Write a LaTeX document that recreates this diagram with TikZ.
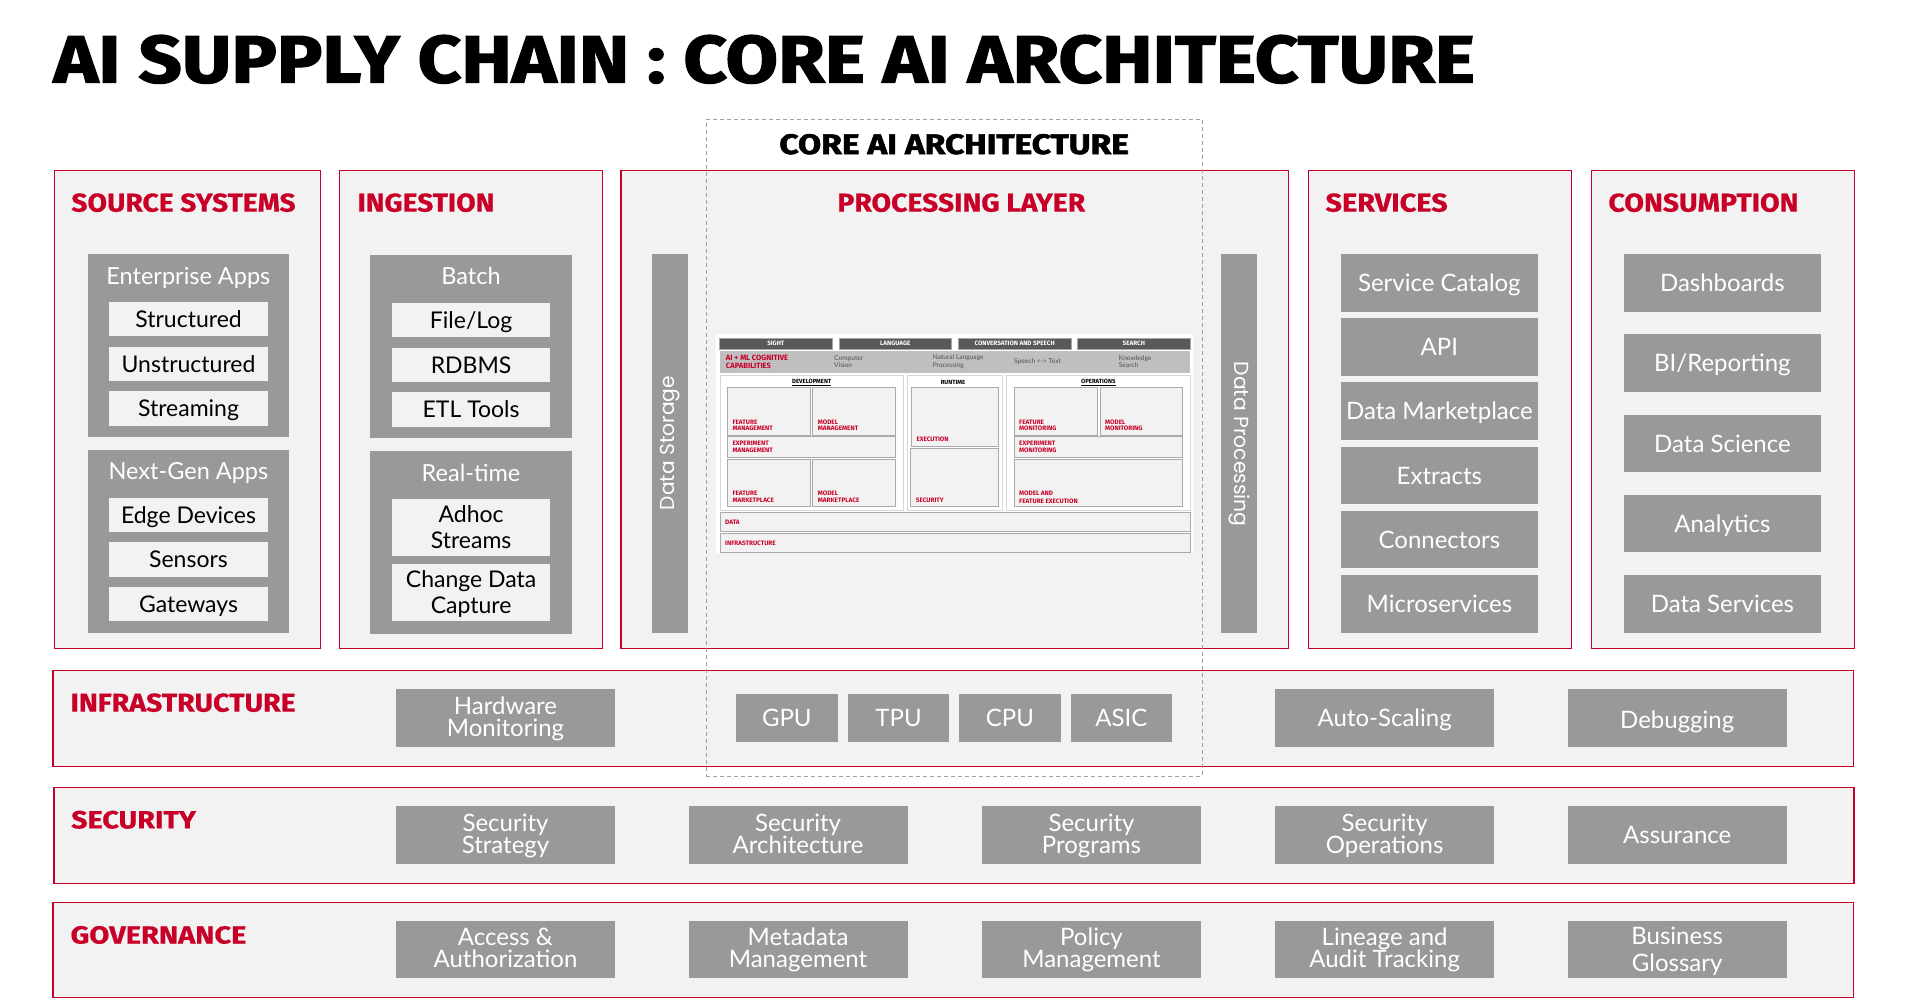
\documentclass[tikz,border=0pt]{standalone}
\usepackage{fontspec}
\usepackage{graphicx}
\setmainfont{Lato}
\newfontfamily\heavyf{Fira Sans}[BoldFeatures={FakeBold=1.8}]
\newfontfamily\xboldf{Fira Sans}[BoldFeatures={FakeBold=0.6}]
\newfontfamily\fboldf{Fira Sans}
\newcommand\heavy{\heavyf\bfseries}
\newcommand\xbold{\xboldf\bfseries}
\newcommand\fbold{\fboldf\bfseries}
\newfontfamily\geo{Poppins}
\usetikzlibrary{calc}
\definecolor{acred}{RGB}{200,0,40}
\definecolor{panel}{RGB}{242,242,242}
\definecolor{boxgray}{RGB}{153,153,153}
\definecolor{darkbar}{RGB}{89,89,89}
\definecolor{cogband}{RGB}{191,191,191}
\definecolor{txtgray}{RGB}{80,80,80}
\definecolor{dashgray}{RGB}{160,160,160}
\definecolor{minibd}{RGB}{170,170,170}
\definecolor{panelbd}{RGB}{215,215,215}

% name, x1, y1, x2, y2, style, text
\newcommand\RBox[7]{%
  \pgfmathsetmacro\rbw{#4-#2}\pgfmathsetmacro\rbh{#5-#3}%
  \node[inner sep=0pt,outer sep=0pt,anchor=north west,minimum width=\rbw pt,minimum height=\rbh pt,#6] (#1) at (#2,#3) {#7};}
% name, x, y, width, height, colour, text
\newcommand\HeadT[7]{%
  \node[anchor=north west,inner sep=0pt,outer sep=0pt,text=#6] (#1) at (#2,#3) {\resizebox{#4pt}{#5pt}{\xbold #7}};}

\tikzset{
  panelbox/.style={draw=acred,fill=panel,line width=1.3pt},
  grp/.style={fill=boxgray},
  wbox/.style={fill=panel,align=center,font=\fontsize{23}{26}\selectfont,text height=16.5pt,text depth=0pt},
  wbox2/.style={wbox,text height=42.5pt},
  gbox/.style={fill=boxgray,text=white,align=center,font=\fontsize{24}{26}\selectfont,text height=17.2pt,text depth=0pt},
  rowbox/.style={fill=boxgray,text=white,align=center,font=\fontsize{24}{22.3}\selectfont,text height=17.2pt,text depth=0pt},
  rowbox2/.style={rowbox,text height=37pt},
  grplabel/.style={text=white,font=\fontsize{23.5}{26}\selectfont,text height=16.8pt,text depth=0pt,inner sep=0pt},
  vbar/.style={fill=boxgray},
  vtext/.style={text=white,inner sep=0pt},
  topbar/.style={fill=darkbar,draw=gray!70,line width=0.6pt,text=white,font=\fbold\fontsize{6.3}{7}\selectfont},
  minipanel/.style={fill=white,draw=panelbd,line width=0.8pt},
  minibox/.style={fill=panel,draw=minibd,line width=0.9pt},
  minilbl/.style={text=acred,font=\fbold\fontsize{6.4}{6.6}\selectfont,align=left,inner sep=0pt,anchor=south west},
  minihead/.style={text=black,font=\fbold\fontsize{6}{7}\selectfont,inner sep=0pt},
  cogtxt/.style={text=txtgray,font=\fontsize{6.6}{7.4}\selectfont,align=left,inner sep=0pt,anchor=west},
}

\begin{document}
\begin{tikzpicture}[x=1pt,y=-1pt]
\useasboundingbox (0,0) rectangle (1908,1004);
\fill[white] (0,0) rectangle (1908,1004);

% ---------- title ----------
\node[anchor=north west,inner sep=0pt,outer sep=0pt] (title) at (53.5,35)
  {\resizebox{1420.5pt}{47.5pt}{\heavy AI SUPPLY CHAIN : CORE AI ARCHITECTURE}};

% ---------- top panels ----------
\RBox{src}{54.5}{170.7}{320.5}{648.3}{panelbox}{}
\RBox{ing}{339.3}{170.7}{602.6}{648.3}{panelbox}{}
\RBox{proc}{621}{170.7}{1288.3}{648.3}{panelbox}{}
\RBox{svc}{1308.5}{170.7}{1571.4}{648.3}{panelbox}{}
\RBox{con}{1591.5}{170.7}{1854.4}{648.3}{panelbox}{}

\HeadT{hsrc}{71.4}{193.3}{224.2}{18.3}{acred}{SOURCE SYSTEMS}
\HeadT{hing}{357.6}{193.3}{136.7}{18.3}{acred}{INGESTION}
\HeadT{hproc}{837.4}{193.3}{247.8}{18.3}{acred}{PROCESSING LAYER}
\HeadT{hsvc}{1325.5}{193.3}{122.2}{18.3}{acred}{SERVICES}
\HeadT{hcon}{1608.5}{193.3}{190}{18.3}{acred}{CONSUMPTION}

% ---------- source systems ----------
\RBox{ent}{87.8}{254.3}{289}{436.7}{grp}{}
\node[grplabel] (entl) at (188.4,276) {Enterprise Apps};
\RBox{s1}{108.9}{302.3}{268.1}{335.7}{wbox}{Structured}
\RBox{s2}{108.9}{347.3}{268.1}{380.7}{wbox}{Unstructured}
\RBox{s3}{108.9}{391.3}{268.1}{425.7}{wbox}{Streaming}
\RBox{ngn}{87.8}{450.3}{289}{632.7}{grp}{}
\node[grplabel] (ngnl) at (188.4,471) {Next-Gen Apps};
\RBox{s4}{108.9}{498.3}{268.1}{531.7}{wbox}{Edge Devices}
\RBox{s5}{108.9}{542.3}{268.1}{576.7}{wbox}{Sensors}
\RBox{s6}{108.9}{587.3}{268.1}{621}{wbox}{Gateways}

% ---------- ingestion ----------
\RBox{bat}{369.9}{255}{572}{437.7}{grp}{}
\node[grplabel] (batl) at (471,276) {Batch};
\RBox{i1}{392.1}{303.3}{550.1}{336.7}{wbox}{File/Log}
\RBox{i2}{392.1}{348.3}{550.1}{381.7}{wbox}{RDBMS}
\RBox{i3}{392.1}{392.3}{550.1}{426.7}{wbox}{ETL Tools}
\RBox{rt}{369.9}{451.3}{572}{633.7}{grp}{}
\node[grplabel] (rtl) at (471,472.7) {Real-time};
\RBox{i4}{392.1}{499.3}{550.1}{556}{wbox2}{Adhoc\\Streams}
\RBox{i5}{392.1}{564}{550.1}{621}{wbox2}{Change Data\\Capture}

% ---------- processing layer ----------
\RBox{dstor}{652.1}{254}{688.1}{632.7}{vbar}{}
\node[vtext,rotate=90] (dstort) at (670.3,443) {\resizebox{134pt}{!}{\geo Data Storage}};
\RBox{dproc}{1221}{254}{1257}{633.3}{vbar}{}
\node[vtext,rotate=-90] (dproct) at (1239,444.2) {\resizebox{165pt}{!}{\geo Data Processing}};

% mini architecture picture
\RBox{mbg}{716}{334}{1192.7}{553.3}{fill=white}{}
\RBox{bsight}{719.3}{338.3}{832.3}{349.3}{topbar}{SIGHT}
\RBox{blang}{839}{338.3}{951.7}{349.3}{topbar}{LANGUAGE}
\RBox{bconv}{958.3}{338.3}{1071}{349.3}{topbar}{CONVERSATION AND SPEECH}
\RBox{bsearch}{1077.3}{338.3}{1190.3}{349.3}{topbar}{SEARCH}
\RBox{cog}{720}{351}{1190}{372.7}{fill=cogband}{}
\node[text=acred,font=\fbold\fontsize{7.6}{7.7}\selectfont,align=left,inner sep=0pt,anchor=west] (cogl) at (725.7,361.6) {AI + ML COGNITIVE\\CAPABILITIES};
\node[cogtxt] (cv) at (834,361.6) {Computer\\Vision};
\node[cogtxt] (nlp) at (932.7,361.6) {Natural Language\\Processing};
\node[cogtxt] (stt) at (1014,362) {Speech <-> Text};
\node[cogtxt] (ks) at (1118.7,361.6) {Knowledge\\Search};

\RBox{pdev}{720}{375}{903.3}{510}{minipanel}{}
\RBox{prun}{907.3}{375}{1002.7}{510}{minipanel}{}
\RBox{pops}{1006.7}{375}{1190}{510}{minipanel}{}
\node[minihead] (hdev) at (811.7,382.3) {\underline{DEVELOPMENT}};
\node[minihead] (hrun) at (953,382.3) {RUNTIME};
\node[minihead] (hops) at (1098.3,382.3) {\underline{OPERATIONS}};

\RBox{fm}{727.3}{387.3}{810}{435}{minibox}{}
\RBox{mm}{812.7}{387.3}{895.3}{435}{minibox}{}
\RBox{em}{727.3}{436.7}{895.3}{457.7}{minibox}{}
\RBox{fmk}{727.3}{459.3}{810}{506.7}{minibox}{}
\RBox{mmk}{812.7}{459.3}{895.3}{506.7}{minibox}{}
\RBox{exe}{911.3}{387.3}{998.7}{446.7}{minibox}{}
\RBox{sec}{910.7}{448.3}{998.7}{506.7}{minibox}{}
\RBox{fmon}{1014}{387.3}{1097.3}{435}{minibox}{}
\RBox{mmon}{1100}{387.3}{1182.7}{435}{minibox}{}
\RBox{emon}{1014}{436.3}{1182.7}{457.7}{minibox}{}
\RBox{mfe}{1014}{459.3}{1182.7}{506.7}{minibox}{}
\RBox{mdata}{720}{512.3}{1190}{531.7}{minibox}{}
\RBox{minfra}{720}{533.3}{1190}{552.3}{minibox}{}

\node[minilbl] (lfm) at ($(fm.south west)+(5,-4)$) {FEATURE\\MANAGEMENT};
\node[minilbl] (lmm) at ($(mm.south west)+(5,-4)$) {MODEL\\MANAGEMENT};
\node[minilbl] (lem) at ($(em.south west)+(5,-5)$) {EXPERIMENT\\MANAGEMENT};
\node[minilbl] (lfmk) at ($(fmk.south west)+(5,-4)$) {FEATURE\\MARKETPLACE};
\node[minilbl] (lmmk) at ($(mmk.south west)+(5,-4)$) {MODEL\\MARKETPLACE};
\node[minilbl] (lexe) at ($(exe.south west)+(5,-4.4)$) {EXECUTION};
\node[minilbl] (lsec) at ($(sec.south west)+(5,-4)$) {SECURITY};
\node[minilbl] (lfmon) at ($(fmon.south west)+(5,-4)$) {FEATURE\\MONITORING};
\node[minilbl] (lmmon) at ($(mmon.south west)+(5,-4)$) {MODEL\\MONITORING};
\node[minilbl,font=\fbold\fontsize{6.4}{7.6}\selectfont] (lemon) at ($(emon.south west)+(5,-4.5)$) {EXPERIMENT\\MONITORING};
\node[minilbl,font=\fbold\fontsize{6.4}{7.2}\selectfont] (lmfe) at ($(mfe.south west)+(5,-3.2)$) {MODEL AND\\FEATURE EXECUTION};
\node[minilbl,anchor=west] (ldata) at ($(mdata.west)+(5,0)$) {DATA};
\node[minilbl,anchor=west] (linfra) at ($(minfra.west)+(5,0)$) {INFRASTRUCTURE};

% ---------- services ----------
\RBox{sv1}{1340.8}{254.3}{1537.9}{311.7}{gbox}{Service Catalog}
\RBox{sv2}{1340.8}{318.3}{1537.9}{375.7}{gbox}{API}
\RBox{sv3}{1340.8}{382.3}{1537.9}{439.7}{gbox}{Data Marketplace}
\RBox{sv4}{1340.8}{447.3}{1537.9}{503.7}{gbox}{Extracts}
\RBox{sv5}{1340.8}{511.3}{1537.9}{567.7}{gbox}{Connectors}
\RBox{sv6}{1340.8}{575.3}{1537.9}{632.7}{gbox}{Microservices}

% ---------- consumption ----------
\RBox{cn1}{1623.9}{254.3}{1820.9}{311.7}{gbox}{Dashboards}
\RBox{cn2}{1623.9}{334.3}{1820.9}{391.7}{gbox}{BI/Reporting}
\RBox{cn3}{1623.9}{415.3}{1820.9}{471.7}{gbox}{Data Science}
\RBox{cn4}{1623.9}{495.3}{1820.9}{551.7}{gbox}{Analytics}
\RBox{cn5}{1623.9}{575.3}{1820.9}{632.7}{gbox}{Data Services}

% ---------- horizontal bands ----------
\RBox{infra}{53}{670.7}{1853.5}{766.7}{panelbox}{}
\RBox{secu}{54}{787.3}{1854}{883.3}{panelbox}{}
\RBox{gov}{53}{902.3}{1853.5}{997.3}{panelbox}{}
\HeadT{hinfra}{70.6}{693.3}{225}{18.3}{acred}{INFRASTRUCTURE}
\HeadT{hsecu}{71.2}{810.7}{124.7}{17.7}{acred}{SECURITY}
\HeadT{hgov}{70.6}{926}{175.8}{17.5}{acred}{GOVERNANCE}

\RBox{hw}{396}{689.3}{615}{746.7}{rowbox2}{Hardware\\Monitoring}
\RBox{gpu}{736}{694}{837.6}{741.7}{rowbox}{GPU}
\RBox{tpu}{848}{694}{949}{741.7}{rowbox}{TPU}
\RBox{cpu}{958.9}{694}{1061}{741.7}{rowbox}{CPU}
\RBox{asic}{1070.8}{694}{1171.8}{741.7}{rowbox}{ASIC}
\RBox{autos}{1275.2}{689.3}{1494.1}{746.7}{rowbox}{Auto-Scaling}
\RBox{debug}{1567.7}{689.3}{1786.7}{746.7}{rowbox,text height=21.2pt}{Debugging}

\RBox{ss1}{396}{806}{615}{863.7}{rowbox2}{Security\\Strategy}
\RBox{ss2}{688.6}{806}{907.5}{863.7}{rowbox2}{Security\\Architecture}
\RBox{ss3}{982}{806}{1201}{863.7}{rowbox2}{Security\\Programs}
\RBox{ss4}{1275.2}{806}{1494.1}{863.7}{rowbox2}{Security\\Operations}
\RBox{ss5}{1567.7}{806}{1786.7}{863.7}{rowbox}{Assurance}

\RBox{gv1}{396}{921}{615}{977.7}{rowbox2}{Access \&\\Authorization}
\RBox{gv2}{688.6}{921}{907.5}{977.7}{rowbox2}{Metadata\\Management}
\RBox{gv3}{982}{921}{1201}{977.7}{rowbox2}{Policy\\Management}
\RBox{gv4}{1275.2}{921}{1494.1}{977.7}{rowbox2}{Lineage and\\Audit Tracking}
\RBox{gv5}{1567.7}{921}{1786.7}{977.7}{rowbox,font=\fontsize{24}{26.5}\selectfont,text height=43.7pt}{Business\\Glossary}

% ---------- core AI architecture dashed frame ----------
\RBox{core}{706.3}{119.3}{1202.2}{776.3}{draw=dashgray,dash pattern=on 4pt off 3pt,line width=1pt}{}
\node[anchor=north west,inner sep=0pt,outer sep=0pt] (hcore) at (779.4,134)
  {\resizebox{349.5pt}{20pt}{\heavy CORE AI ARCHITECTURE}};

\end{tikzpicture}
\end{document}
